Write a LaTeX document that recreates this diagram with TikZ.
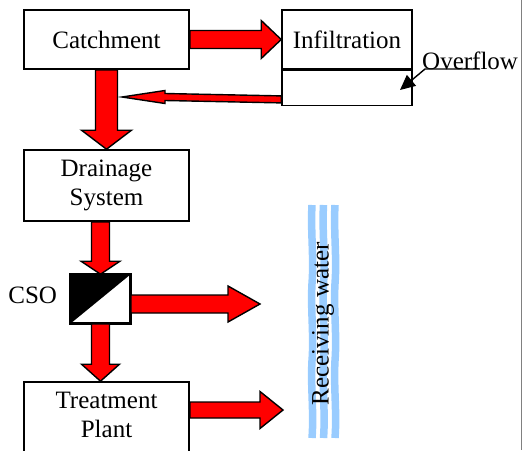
\documentclass[tikz,border=0pt]{standalone}
\usepackage{fontspec}
\setmainfont{Liberation Serif}
\usetikzlibrary{calc,arrows.meta}

\definecolor{flowred}{RGB}{255,0,0}
\definecolor{waterblue}{RGB}{153,204,255}

\tikzset{
  box/.style={draw=black, line width=1.6pt, fill=white, inner sep=0pt,
              align=center, font=\fontsize{25}{29}\selectfont},
  flow/.style={draw=black, fill=flowred, line width=1.4pt, line join=miter},
  lead/.style={draw=black, line width=1.4pt, -{Triangle[length=15pt,width=14pt]}},
  water/.style={draw=waterblue, line width=7.5pt, line cap=butt},
  plain/.style={inner sep=0pt, font=\fontsize{25}{29}\selectfont, align=center}
}

% block arrows: #1 tail point, #2 tip point, #3 shaft half width,
% #4 head half width, #5 head length
\newcommand{\flowright}[5]{%
  \draw[flow] ($(#1)+(0,-#3)$) -- ($(#2)+(-#5,-#3)$) -- ($(#2)+(-#5,-#4)$)
    -- (#2) -- ($(#2)+(-#5,#4)$) -- ($(#2)+(-#5,#3)$) -- ($(#1)+(0,#3)$) -- cycle;}
\newcommand{\flowleft}[5]{%
  \draw[flow] ($(#1)+(0,-#3)$) -- ($(#2)+(#5,-#3)$) -- ($(#2)+(#5,-#4)$)
    -- (#2) -- ($(#2)+(#5,#4)$) -- ($(#2)+(#5,#3)$) -- ($(#1)+(0,#3)$) -- cycle;}
\newcommand{\flowdown}[5]{%
  \draw[flow] ($(#1)+(-#3,0)$) -- ($(#2)+(-#3,-#5)$) -- ($(#2)+(-#4,-#5)$)
    -- (#2) -- ($(#2)+(#4,-#5)$) -- ($(#2)+(#3,-#5)$) -- ($(#1)+(#3,0)$) -- cycle;}

\begin{document}
\begin{tikzpicture}[x=1pt,y=-1pt]
  \path[use as bounding box, clip] (0,0) rectangle (522,450);

  % receiving water
  \foreach \wx in {312,323.5,335} {
    \draw[water] (\wx,205)
      .. controls (\wx-1.5,231) and (\wx+2,257) .. (\wx,283.7)
      .. controls (\wx-1.5,309) and (\wx+2,335) .. (\wx,360.7)
      .. controls (\wx-1.5,386) and (\wx+2,412) .. (\wx,438);
  }
  \node[plain, rotate=90] (rw) at (323,324) {Receiving water};

  % process boxes
  \node[box, minimum width=165pt, minimum height=59pt] (catch) at (106.5,39.5) {Catchment};
  \node[box, minimum width=130pt, minimum height=59pt] (infil) at (347,39.5) {Infiltration};
  \node[box, minimum width=130pt, minimum height=35pt, anchor=north] (infilbox) at (infil.south) {};
  \node[box, minimum width=165pt, minimum height=71pt] (drain) at (106.5,185.5) {Drainage\\System};
  \node[box, minimum width=59pt, minimum height=48pt] (cso) at (100.5,299) {};
  \fill[black] (cso.south west) -- (cso.north west) -- (cso.north east) -- cycle;
  \draw[line width=1.6pt] (cso.south west) rectangle (cso.north east);
  \node[plain, anchor=east] (csolabel) at ($(cso.west)+(-13,-4)$) {CSO};
  \node[box, minimum width=165pt, minimum height=80pt] (treat) at (106.5,422) {};
  \node[plain] (treattxt) at (106.5,415) {Treatment\\Plant};

  % overflow callout
  \node[plain, anchor=base west] (ovfl) at (422,69) {Overflow};
  \coordinate (ovtip) at (400,90);
  \draw[lead] ($(ovfl.base west)+(58,0)$) -- ($(ovfl.base west)+(3,0)$) -- (ovtip);

  % flows
  \flowright{catch.east}{infil.west}{9}{19}{20}
  \flowdown{catch.south}{drain.north}{11}{25}{19}
  \coordinate (retS) at ($(infilbox.south west)+(0,-7)$);
  \coordinate (retT) at (122,97);
  \flowleft{retS}{retT}{3.5}{6.5}{43}
  \coordinate (d1) at (drain.south -| cso.north);
  \flowdown{d1}{cso.north}{9}{19.5}{13}
  \coordinate (c1) at ($(cso.east)+(0,5)$);
  \coordinate (c2) at (260,304);
  \flowright{c1}{c2}{9}{18}{32}
  \coordinate (t1) at (treat.north -| cso.south);
  \flowdown{cso.south}{t1}{9}{19}{17}
  \coordinate (tr1) at ($(treat.east)+(0,-12)$);
  \coordinate (tr2) at (283,410);
  \flowright{tr1}{tr2}{8}{18.5}{23}

  % page edge
  \draw[gray, line width=1pt] (521,0) -- (521,450);
\end{tikzpicture}
\end{document}
